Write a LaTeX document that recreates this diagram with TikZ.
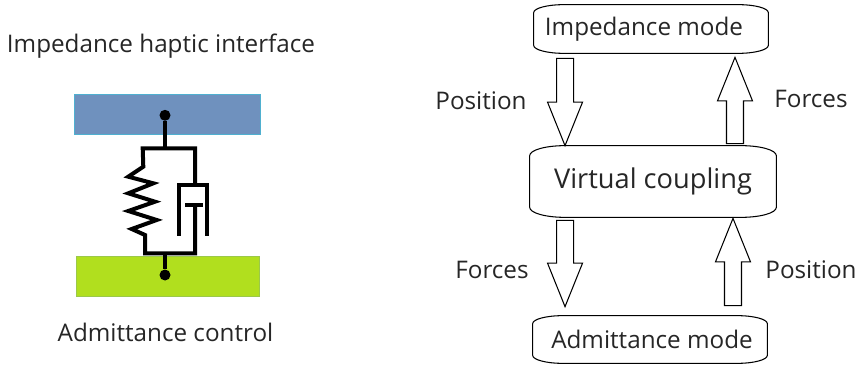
\documentclass[tikz,border=0pt]{standalone}
\usepackage{xcolor}
\usepackage{fontspec}
\setmainfont{Open Sans}
\usetikzlibrary{calc}

\definecolor{platetop}{HTML}{6F91BE}
\definecolor{platetopline}{HTML}{4FB0D0}
\definecolor{platelow}{HTML}{B1DF1E}
\definecolor{platelowline}{HTML}{9BC84A}

\tikzset{
    caption/.style={font=\fontsize{13.8}{16}\selectfont, text=black!85, inner sep=0pt},
    modebox/.style={caption, minimum width=4.68cm, minimum height=0.96cm},
    plate/.style={minimum height=0.8cm, line width=0.5pt},
    mech/.style={line width=0.08cm},
    joint/.style={circle, fill=black, inner sep=0pt, minimum size=0.22cm},
    frame/.style={line width=0.6pt},
    blockarrow/.style={line width=0.6pt, to path={
        ($(\tikztotarget)!0.87cm!(\tikztostart)$) coordinate (base)
        ($(\tikztostart)!0.17cm!90:(base)$) -- ($(base)!0.17cm!-90:(\tikztostart)$)
        -- ($(base)!0.35cm!-90:(\tikztostart)$) -- (\tikztotarget)
        -- ($(base)!0.35cm!90:(\tikztostart)$) -- ($(base)!0.17cm!90:(\tikztostart)$)
        -- ($(\tikztostart)!0.17cm!-90:(base)$) -- cycle}}
}

\newcommand{\flatframe}[3]{
    \draw[frame] ([xshift=#2]#1.north west) -- ([xshift=-#2]#1.north east)
        arc[start angle=90, end angle=0, x radius=#2, y radius=#3]
        -- ([yshift=#3]#1.south east)
        arc[start angle=0, end angle=-90, x radius=#2, y radius=#3]
        -- ([xshift=#2]#1.south west)
        arc[start angle=270, end angle=180, x radius=#2, y radius=#3]
        -- ([yshift=-#3]#1.north west)
        arc[start angle=180, end angle=90, x radius=#2, y radius=#3] -- cycle;
}

\begin{document}
\begin{tikzpicture}[x=0.02cm, y=0.02cm]
    \useasboundingbox (0, 0) rectangle (857, 365);

    % left part
    \node[caption] at (161, 318.5) (title) {Impedance haptic interface};
    \node[caption] at (165.5, 32.5) (control) {Admittance control};

    \node[plate, draw=platetopline, fill=platetop, minimum width=3.73cm] at (167.7, 250.8) (top) {};
    \node[plate, draw=platelowline, fill=platelow, minimum width=3.66cm] at (167.5, 89) (low) {};
    \node[joint] at (165, 249.7) (topjoint) {};
    \node[joint] at (165, 90) (lowjoint) {};

    \draw[mech] (topjoint) -- (165, 216.7);
    \draw[mech] (lowjoint) -- (165, 111.7);
    \draw[mech, line join=miter] (195, 180) -- (195, 216.7) -- (142.7, 216.7) -- (143.3, 198.3)
        -- (128.3, 188.3) -- (153.3, 181.7) -- (128.3, 171.7) -- (155, 163.3) -- (128.3, 154)
        -- (156.7, 145) -- (131.7, 136) -- (145, 130) -- (145, 111.7) -- (195, 111.7) -- (195, 160);
    \draw[mech] (179.3, 129.3) -- (179.3, 180) -- (206.7, 180) -- (206.7, 129.3);
    \draw[mech] (185, 160) -- (202.7, 160);

    % right part
    \node[modebox] at (651, 336) (impedance) {\hspace*{-0.28cm}Impedance mode};
    \node[modebox, minimum width=4.92cm, minimum height=1.42cm, font=\fontsize{15.5}{18}\selectfont] at (653, 183.5) (virtual) {\raisebox{-0.03cm}{Virtual coupling}};
    \node[modebox, minimum height=0.94cm] at (650, 25.5) (admittance) {\hspace*{0.08cm}Admittance mode};

    \flatframe{impedance}{0.6cm}{0.16cm}
    \flatframe{virtual}{0.7cm}{0.2cm}
    \flatframe{admittance}{0.6cm}{0.16cm}

    \draw[blockarrow] ([xshift=-1.72cm, yshift=-0.1cm]impedance.south) to ([xshift=-1.76cm]virtual.north);
    \draw[blockarrow] ([xshift=1.64cm, yshift=0.04cm]virtual.north) to ([xshift=1.68cm, yshift=-0.08cm]impedance.south);
    \draw[blockarrow] ([xshift=-1.76cm, yshift=-0.06cm]virtual.south) to ([xshift=-1.7cm, yshift=0.18cm]admittance.north);
    \draw[blockarrow] ([xshift=1.66cm, yshift=0.2cm]admittance.north) to ([xshift=1.6cm, yshift=-0.02cm]virtual.south);

    \node[caption] at (481, 264.5) (pos1) {Position};
    \node[caption] at (811, 266) (for1) {Forces};
    \node[caption] at (492, 95) (for2) {Forces};
    \node[caption] at (811, 95) (pos2) {Position};
\end{tikzpicture}
\end{document}
